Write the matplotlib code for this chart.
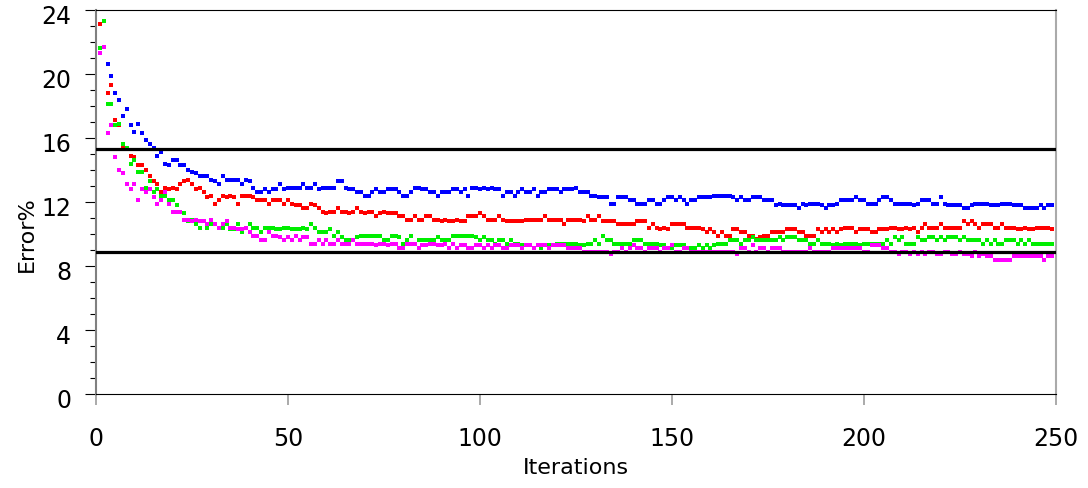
import numpy as np
import matplotlib
matplotlib.use("Agg")
import matplotlib.pyplot as plt
import matplotlib.transforms as mtransforms
from matplotlib.ticker import MultipleLocator

# ── DATA (error % per iteration) ─────────────────────────────────────────────

blue_err = [
    23.1, 23.3, 20.6, 19.9, 18.8, 18.4, 17.4, 17.8, 16.8, 16.4,
    16.9, 16.3, 15.9, 15.6, 15.4, 14.9, 15.1, 14.4, 14.3, 14.6,
    14.6, 14.3, 14.3, 14.0, 13.9, 13.8, 13.6, 13.6, 13.6, 13.4,
    13.3, 13.1, 13.6, 13.4, 13.4, 13.4, 13.4, 13.1, 13.4, 13.3,
    12.9,
    12.6, 12.6, 12.8, 12.6, 12.8, 12.8, 13.1, 12.8, 12.9, 12.9,
    12.9, 12.9, 13.1, 12.9, 12.9, 13.1, 12.8, 12.9, 12.9, 12.9,
    12.9, 13.3, 13.3, 12.9, 12.8, 12.8, 12.6, 12.6, 12.4, 12.4,
    12.6, 12.8, 12.6, 12.6, 12.8, 12.8, 12.8, 12.6, 12.4, 12.4,
    12.6, 12.9,
    12.9, 12.8, 12.8, 12.6, 12.6, 12.4, 12.6, 12.6, 12.6, 12.8,
    12.8, 12.6, 12.8, 12.4, 12.9, 12.9, 12.8, 12.9, 12.8, 12.9,
    12.8, 12.8, 12.4, 12.6, 12.6, 12.4, 12.6, 12.8, 12.6, 12.6,
    12.8, 12.4, 12.6, 12.6, 12.8, 12.8, 12.8, 12.6, 12.8, 12.8,
    12.8,
    12.9, 12.6, 12.6, 12.6, 12.4, 12.4, 12.3, 12.3, 12.3, 11.9,
    11.9, 12.3, 12.3, 12.3, 12.1, 12.1, 11.9, 11.9, 11.9, 12.1,
    12.1, 11.9, 11.9, 12.1, 12.3, 12.3, 12.1, 12.3, 12.1, 11.9,
    12.1, 12.1, 12.3, 12.3, 12.3, 12.3, 12.4, 12.4, 12.4, 12.4,
    12.4, 12.3,
    12.1, 12.3, 12.1, 12.1, 12.3, 12.3, 12.3, 12.1, 12.1, 12.1,
    11.8, 11.9, 11.8, 11.8, 11.8, 11.8, 11.6, 11.9, 11.8, 11.9,
    11.9, 11.9, 11.8, 11.6, 11.8, 11.8, 11.9, 12.1, 12.1, 12.1,
    12.1, 12.3, 12.1, 12.1, 11.9, 11.9, 11.9, 12.1, 12.3, 12.3,
    12.1, 11.9,
    11.9, 11.9, 11.9, 11.9, 11.8, 11.9, 12.1, 12.1, 12.1, 11.9,
    11.9, 12.3, 11.9, 11.8, 11.8, 11.8, 11.8, 11.6, 11.6, 11.8,
    11.9, 11.9, 11.9, 11.9, 11.8, 11.8, 11.8, 11.9, 11.9, 11.9,
    11.8, 11.8, 11.8, 11.6, 11.6, 11.6, 11.6, 11.8, 11.6, 11.8,
    11.8,
]

red_err = [
    23.1, 21.7, 18.8, 19.3, 17.1, 16.8, 15.4, 15.3, 14.9, 14.8,
    14.3, 14.3, 14.0, 13.6, 13.3, 13.1, 12.6, 12.9, 12.8, 12.9,
    12.8, 13.1, 13.3, 13.4, 13.1, 12.8, 12.9, 12.6, 12.3, 12.4,
    11.9, 12.1, 12.4, 12.3, 12.4, 12.3, 11.9, 12.4, 12.4, 12.4,
    12.3,
    12.1, 12.1, 12.1, 11.9, 12.1, 12.1, 12.1, 11.9, 12.1, 11.9,
    11.8, 11.8, 11.6, 11.6, 11.9, 11.8, 11.6, 11.4, 11.3, 11.4,
    11.4, 11.6, 11.4, 11.4, 11.3, 11.4, 11.6, 11.4, 11.3, 11.4,
    11.4, 11.1, 11.3, 11.4, 11.3, 11.3, 11.3, 11.1, 11.1, 10.9,
    10.9, 11.1,
    10.9, 10.9, 11.1, 11.1, 10.9, 10.9, 10.8, 10.9, 10.8, 10.8,
    10.9, 10.8, 10.8, 11.1, 11.1, 11.1, 11.3, 11.1, 10.9, 10.9,
    10.9, 11.1, 10.9, 10.8, 10.8, 10.8, 10.8, 10.8, 10.9, 10.9,
    10.9, 10.9, 10.9, 11.1, 10.9, 10.9, 10.9, 10.9, 10.6, 10.9,
    10.9,
    10.9, 10.9, 10.8, 11.1, 10.9, 10.9, 11.1, 10.8, 10.8, 10.8,
    10.8, 10.6, 10.6, 10.6, 10.6, 10.6, 10.8, 10.8, 10.8, 10.4,
    10.6, 10.4, 10.3, 10.4, 10.3, 10.6, 10.6, 10.6, 10.6, 10.4,
    10.4, 10.4, 10.4, 10.3, 10.1, 10.3, 10.1, 9.9, 10.1, 9.9,
    9.9, 10.3,
    10.3, 10.1, 10.1, 9.9, 9.9, 9.7, 9.8, 9.9, 9.9, 10.1,
    10.1, 10.1, 10.1, 10.3, 10.3, 10.3, 10.1, 10.1, 9.9, 9.9,
    9.9, 10.3, 10.1, 10.3, 10.1, 10.3, 10.1, 10.3, 10.4, 10.4,
    10.4, 10.1, 10.3, 10.3, 10.3, 10.1, 10.1, 10.3, 10.3, 10.3,
    10.4,
    10.4, 10.3, 10.3, 10.4, 10.3, 10.4, 10.1, 10.4, 10.6, 10.4,
    10.4, 10.4, 10.6, 10.4, 10.4, 10.4, 10.4, 10.4, 10.8, 10.6,
    10.8, 10.6, 10.4, 10.6, 10.6, 10.6, 10.4, 10.4, 10.6, 10.4,
    10.4, 10.4, 10.3, 10.3, 10.4, 10.3, 10.3, 10.4, 10.4, 10.4,
    10.4, 10.3,
]

green_err = [
    21.6, 23.3, 18.1, 18.1, 16.8, 16.9, 15.6, 15.4, 14.4, 14.6,
    13.9, 13.9, 12.9, 13.3, 12.6, 12.8, 12.4, 12.4, 12.1, 12.1,
    11.8, 11.4, 11.3, 10.8, 10.9, 10.6, 10.4, 10.8, 10.4, 10.6,
    10.6, 10.4, 10.4, 10.6, 10.3, 10.3, 10.6, 10.1, 10.4, 10.6,
    10.4,
    10.4, 10.1, 10.4, 10.4, 10.4, 10.3, 10.3, 10.4, 10.4, 10.3,
    10.3, 10.3, 10.4, 10.3, 10.6, 10.4, 10.1, 10.1, 10.1, 10.3,
    9.9, 10.1, 9.8, 9.6, 9.6, 9.6, 9.8, 9.9, 9.9, 9.9,
    9.9, 9.9, 9.9, 9.6, 9.6, 9.9, 9.9, 9.8, 9.4, 9.6,
    9.9, 9.4,
    9.6, 9.6, 9.6, 9.6, 9.6, 9.8, 9.6, 9.6, 9.6, 9.9,
    9.9, 9.9, 9.9, 9.9, 9.9, 9.8, 9.6, 9.8, 9.6, 9.6,
    9.4, 9.6, 9.6, 9.4, 9.6, 9.4, 9.4, 9.3, 9.3, 9.3,
    9.1, 9.3, 9.1, 9.3, 9.3, 9.3, 9.4, 9.4, 9.4, 9.4,
    9.4,
    9.4, 9.3, 9.3, 9.4, 9.4, 9.6, 9.4, 9.9, 9.6, 9.6,
    9.4, 9.4, 9.4, 9.4, 9.4, 9.6, 9.6, 9.6, 9.4, 9.4,
    9.4, 9.4, 9.3, 9.3, 9.1, 9.1, 9.3, 9.3, 9.3, 9.1,
    9.1, 9.1, 9.3, 9.1, 9.3, 9.1, 9.3, 9.4, 9.4, 9.4,
    9.6, 9.6,
    9.6, 9.4, 9.6, 9.6, 9.8, 9.6, 9.6, 9.6, 9.6, 9.6,
    9.6, 9.8, 9.6, 9.8, 9.8, 9.8, 9.6, 9.6, 9.6, 9.4,
    9.4, 9.6, 9.4, 9.4, 9.4, 9.3, 9.4, 9.3, 9.4, 9.4,
    9.4, 9.4, 9.3, 9.4, 9.4, 9.4, 9.4, 9.4, 9.4, 9.6,
    9.4, 9.8,
    9.6, 9.8, 9.4, 9.4, 9.4, 9.8, 9.6, 9.6, 9.8, 9.8,
    9.6, 9.8, 9.6, 9.8, 9.8, 9.8, 9.6, 9.8, 9.6, 9.6,
    9.6, 9.6, 9.4, 9.6, 9.4, 9.6, 9.4, 9.4, 9.6, 9.6,
    9.6, 9.4, 9.6, 9.4, 9.6, 9.4, 9.4, 9.4, 9.4, 9.4,
    9.4,
]

magenta_err = [
    21.3, 21.7, 16.3, 16.8, 14.8, 14.0, 13.8, 13.1, 12.8, 13.1,
    12.1, 12.8, 12.6, 12.8, 12.3, 11.9, 12.1, 12.6, 11.9, 11.4,
    11.4, 11.4, 10.9, 10.9, 10.8, 10.9, 10.8, 10.8, 10.6, 10.9,
    10.6, 10.4, 10.6, 10.8, 10.4, 10.4, 10.3, 10.3, 10.4, 10.1,
    9.9,
    9.9, 9.6, 9.6, 10.1, 9.9, 9.9, 9.8, 9.6, 9.8, 9.6,
    9.9, 9.6, 9.8, 9.8, 9.4, 9.4, 9.6, 9.4, 9.6, 9.4,
    9.4, 9.6, 9.4, 9.4, 9.4, 9.6, 9.4, 9.4, 9.4, 9.4,
    9.4, 9.3, 9.4, 9.4, 9.3, 9.4, 9.4, 9.1, 9.1, 9.4,
    9.4, 9.4,
    9.1, 9.3, 9.3, 9.4, 9.4, 9.3, 9.3, 9.4, 9.1, 9.4,
    9.1, 9.3, 9.3, 9.1, 9.1, 9.3, 9.3, 9.1, 9.3, 9.1,
    9.3, 9.3, 9.1, 9.1, 9.3, 9.3, 9.3, 9.1, 9.3, 9.3,
    9.1, 9.3, 9.3, 9.3, 9.1, 9.3, 9.3, 9.3, 9.3, 9.1,
    9.1,
    9.1, 9.1, 8.9, 8.9, 8.9, 8.9, 8.9, 8.9, 8.9, 8.75,
    8.9, 8.9, 9.1, 8.9, 9.1, 9.3, 9.1, 9.1, 8.9, 9.1,
    9.1, 9.1, 8.9, 9.1, 9.1, 9.3, 8.9, 8.9, 9.1, 9.1,
    8.9, 8.9, 8.9, 8.9, 8.9, 8.9, 8.9, 8.9, 8.9, 8.9,
    8.9, 8.9,
    8.75, 9.1, 9.1, 8.9, 9.3, 8.9, 9.1, 9.1, 8.9, 9.1,
    9.1, 9.1, 8.9, 8.9, 8.9, 8.9, 8.9, 8.9, 8.9, 9.1,
    8.9, 8.9, 8.9, 8.9, 8.9, 9.1, 9.1, 9.1, 9.1, 9.1,
    9.1, 9.1, 9.1, 8.9, 8.9, 9.3, 9.3, 9.3, 9.1, 9.1,
    8.9, 8.9,
    8.75, 8.9, 8.9, 8.75, 8.9, 8.75, 8.9, 8.75, 8.9, 8.9,
    8.75, 8.75, 8.9, 8.9, 8.75, 8.75, 8.9, 8.75, 8.75, 8.6,
    8.9, 8.6, 8.75, 8.6, 8.6, 8.4, 8.4, 8.4, 8.4, 8.4,
    8.6, 8.6, 8.6, 8.6, 8.6, 8.6, 8.6, 8.6, 8.4, 8.6,
    8.6,
]

ref_levels = [15.3, 8.9]          # the two black reference lines
x_ticks = [0, 50, 100, 150, 200, 250]
y_ticks = [0, 4, 8, 12, 16, 20, 24]

series = [
    (blue_err, "#0000ff"),
    (red_err, "#ff0000"),
    (green_err, "#00ee00"),
    (magenta_err, "#ff00ff"),
]

# ── PLOT ─────────────────────────────────────────────────────────────────────

W, H = 1088, 489
fig = plt.figure(figsize=(W / 100, H / 100), dpi=100)
fig.patch.set_facecolor("white")
ax = fig.add_axes([96 / W, 1 - 395 / H, 960 / W, 384 / H])

for z, (vals, col) in enumerate(series):
    x = np.arange(1, len(vals) + 1)
    ax.plot(x, vals, linestyle="none", marker="s", markersize=2.3,
            markeredgewidth=0, color=col, antialiased=False, zorder=2 + z)

for lvl in ref_levels:
    ax.axhline(lvl, color="black", linewidth=2.3, zorder=10)

ax.set_xlim(0, 250)
ax.set_ylim(0, 24)
ax.set_xticks(x_ticks)
ax.set_yticks(y_ticks)
ax.yaxis.set_minor_locator(MultipleLocator(1))

ax.tick_params(axis="y", which="major", direction="out", length=8,
               width=0.8, color="black", labelsize=17, pad=10)
ax.tick_params(axis="y", which="minor", direction="out", length=4.3,
               width=0.8, color="black")
ax.tick_params(axis="x", which="major", direction="out", length=8,
               width=1.4, color="#aaaaaa", labelcolor="black",
               labelsize=17, pad=15)

ax.spines["left"].set_color("#808080")
ax.spines["left"].set_linewidth(1.5)
ax.spines["right"].set_color("#aaaaaa")
ax.spines["right"].set_linewidth(1.5)
ax.spines["top"].set_color("black")
ax.spines["top"].set_linewidth(0.8)
ax.spines["bottom"].set_color("black")
ax.spines["bottom"].set_linewidth(0.8)

# y tick labels sit a few pixels below their ticks in the reference
shift = mtransforms.ScaledTranslation(0, -0.04, fig.dpi_scale_trans)
for lab in ax.get_yticklabels():
    lab.set_transform(lab.get_transform() + shift)

ax.set_xlabel("Iterations", fontsize=16, va="center")
ax.xaxis.set_label_coords(0.5, -0.19)
ax.set_ylabel("Error%", fontsize=16, va="center")
ax.yaxis.set_label_coords(-0.072, 0.418)

fig.savefig("out.png", dpi=100, facecolor="white")
